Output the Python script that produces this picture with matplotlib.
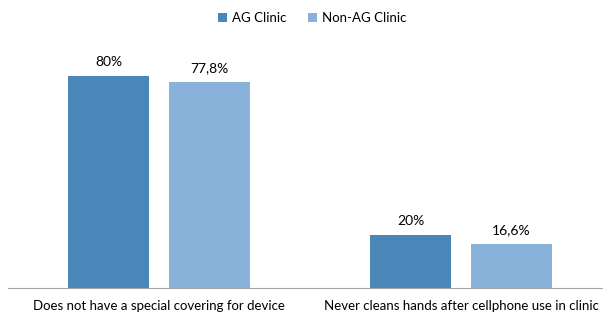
import matplotlib.pyplot as plt
import numpy as np

plt.rcParams['font.family'] = ['Lato', 'DejaVu Sans']

categories = ["Does not have a special covering for device",
              "Never cleans hands after cellphone use in clinic"]
ag_clinic = [80, 20]
non_ag_clinic = [77.8, 16.6]
ag_labels = ["80%", "20%"]
non_ag_labels = ["77,8%", "16,6%"]

fig = plt.figure(figsize=(6.03, 3.16), dpi=100)
# axes spans the plot area in pixels: x 8..603, y 23..288 (from top)
ax = fig.add_axes([8 / 603, (316 - 288) / 316, 595 / 603, 265 / 316])

x = np.arange(len(categories))
w = 0.268
off = 0.167
b1 = ax.bar(x - off, ag_clinic, w, color='#4A86B8', label='AG Clinic')
b2 = ax.bar(x + off, non_ag_clinic, w, color='#88B2DA', label='Non-AG Clinic')

for bars, labels in [(b1, ag_labels), (b2, non_ag_labels)]:
    for rect, lab in zip(bars, labels):
        ax.text(rect.get_x() + rect.get_width() / 2, rect.get_height() + 3, lab,
                ha='center', va='bottom', fontsize=10, color='black')

ax.set_xlim(-0.5, 1.47)
ax.set_ylim(0, 100)
ax.set_xticks(x)
ax.set_xticklabels(categories, fontsize=9.5)
ax.tick_params(axis='x', length=0, pad=9)
ax.set_yticks([])
for s in ['top', 'right', 'left']:
    ax.spines[s].set_visible(False)
ax.spines['bottom'].set_color('#A6A6A6')

fig.legend(loc='upper center', bbox_to_anchor=(0.518, 1.0), ncol=2, frameon=False,
           fontsize=9.5, handlelength=0.7, handleheight=0.7, handletextpad=0.4,
           columnspacing=1.6)

fig.savefig('out.png', dpi=100)
